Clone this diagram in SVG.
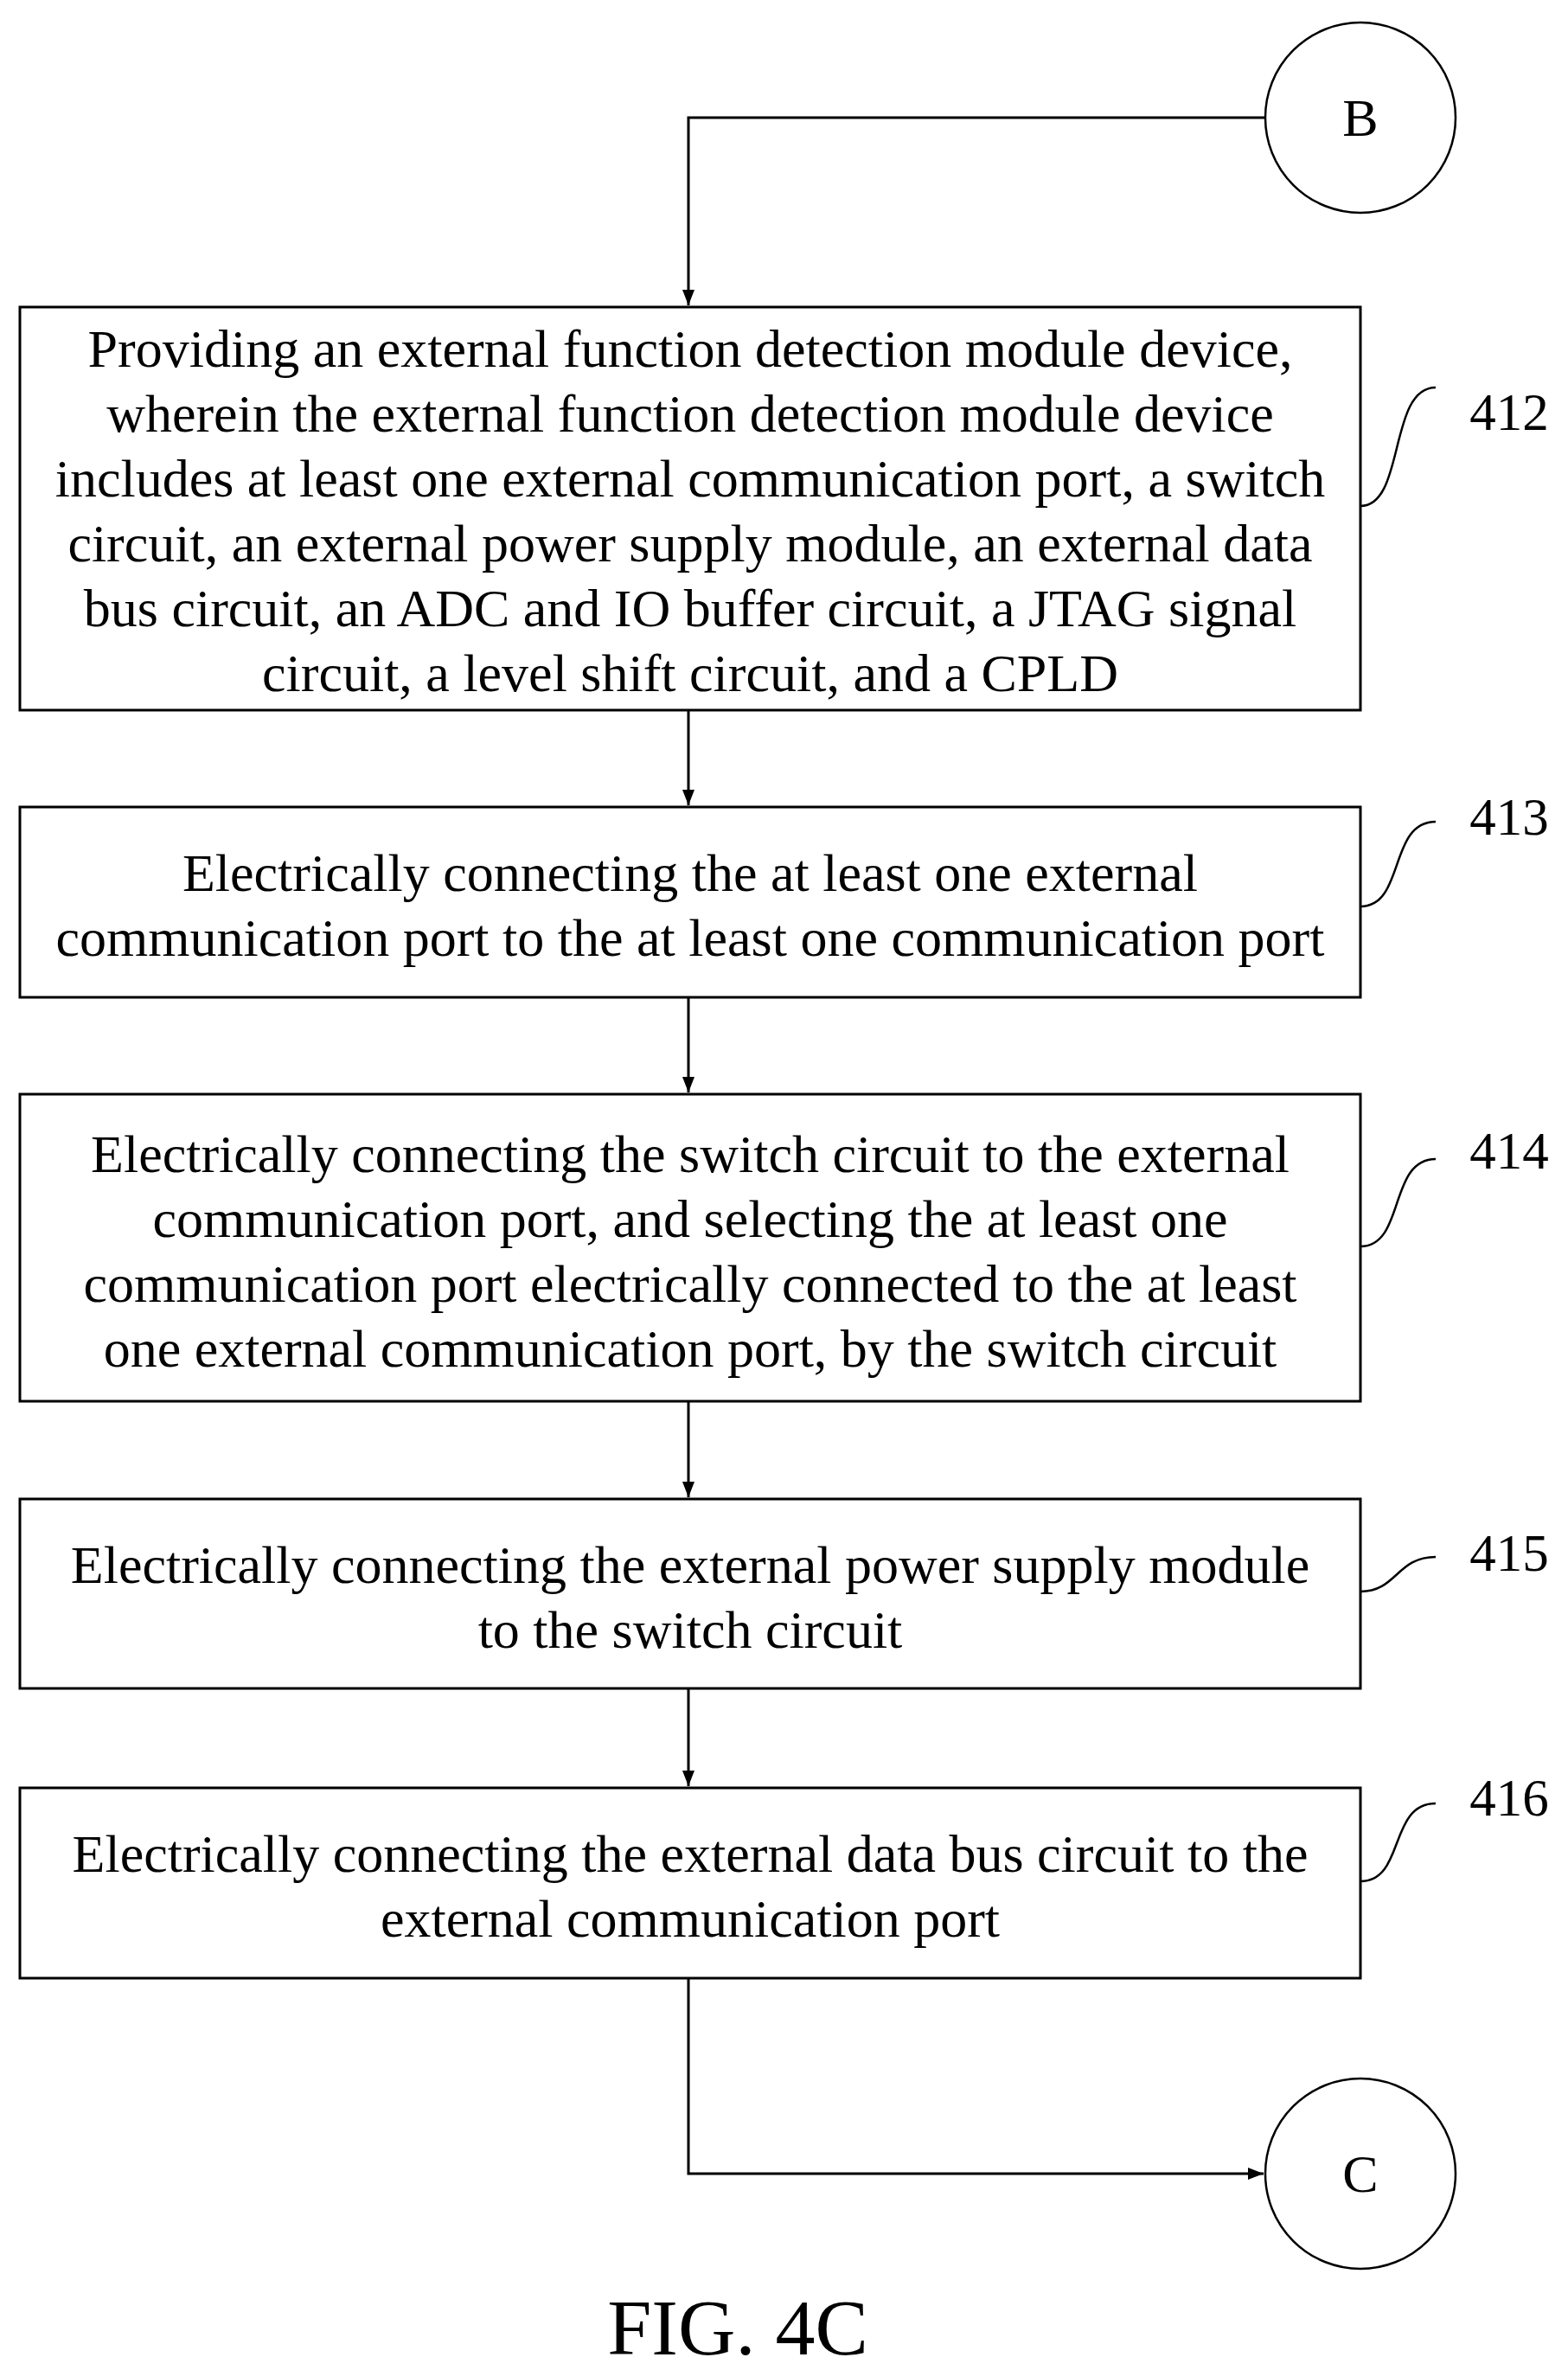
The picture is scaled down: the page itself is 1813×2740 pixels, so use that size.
<svg xmlns="http://www.w3.org/2000/svg" width="1813" height="2740" viewBox="0 0 1813 2740">
<defs>
<style>
.b{fill:none;stroke:#000;stroke-width:3}
.t{font-family:"Liberation Serif",serif;font-size:62px;text-anchor:middle;fill:#000}
.l{font-family:"Liberation Serif",serif;font-size:61px;text-anchor:middle;fill:#000}
.c{fill:none;stroke:#000;stroke-width:2.5}
</style>
<marker id="ar" viewBox="0 0 18 14" refX="18" refY="7" markerWidth="18" markerHeight="14" orient="auto" markerUnits="userSpaceOnUse"><path d="M0,0 L18,7 L0,14 Z" fill="#000"/></marker>
</defs>
<rect width="1813" height="2740" fill="#fff"/>
<g id="connectors">
<path class="b" d="M1463,136 H796 V353" marker-end="url(#ar)"/>
<path class="b" d="M796,821 V931" marker-end="url(#ar)"/>
<path class="b" d="M796,1153 V1263" marker-end="url(#ar)"/>
<path class="b" d="M796,1620 V1731" marker-end="url(#ar)"/>
<path class="b" d="M796,1952 V2065" marker-end="url(#ar)"/>
<path class="b" d="M796,2287 V2513 H1461" marker-end="url(#ar)"/>
<path class="c" d="M1573,585 C1625,585 1605,448 1660,448"/>
<path class="c" d="M1573,1048 C1625,1048 1605,950 1660,950"/>
<path class="c" d="M1573,1441 C1625,1441 1605,1340 1660,1340"/>
<path class="c" d="M1573,1840 C1615,1840 1615,1800 1660,1800"/>
<path class="c" d="M1573,2175 C1625,2175 1605,2085 1660,2085"/>
</g>
<g id="B"><ellipse class="c" cx="1573" cy="136" rx="110" ry="110"/><text class="t" x="1573" y="157">B</text></g>
<g id="n412"><rect class="b" x="23" y="355" width="1550" height="466"/>
<text class="t" x="798" y="424">Providing an external function detection module device,</text>
<text class="t" x="798" y="499">wherein the external function detection module device</text>
<text class="t" x="798" y="574">includes at least one external communication port, a switch</text>
<text class="t" x="798" y="649">circuit, an external power supply module, an external data</text>
<text class="t" x="798" y="724">bus circuit, an ADC and IO buffer circuit, a JTAG signal</text>
<text class="t" x="798" y="799">circuit, a level shift circuit, and a CPLD</text>
<text class="l" x="1745" y="497">412</text></g>
<g id="n413"><rect class="b" x="23" y="933" width="1550" height="220"/>
<text class="t" x="798" y="1030">Electrically connecting the at least one external</text>
<text class="t" x="798" y="1105">communication port to the at least one communication port</text>
<text class="l" x="1745" y="965">413</text></g>
<g id="n414"><rect class="b" x="23" y="1265" width="1550" height="355"/>
<text class="t" x="798" y="1355">Electrically connecting the switch circuit to the external</text>
<text class="t" x="798" y="1430">communication port, and selecting the at least one</text>
<text class="t" x="798" y="1505">communication port electrically connected to the at least</text>
<text class="t" x="798" y="1580">one external communication port, by the switch circuit</text>
<text class="l" x="1745" y="1351">414</text></g>
<g id="n415"><rect class="b" x="23" y="1733" width="1550" height="219"/>
<text class="t" x="798" y="1830">Electrically connecting the external power supply module</text>
<text class="t" x="798" y="1905">to the switch circuit</text>
<text class="l" x="1745" y="1816">415</text></g>
<g id="n416"><rect class="b" x="23" y="2067" width="1550" height="220"/>
<text class="t" x="798" y="2164">Electrically connecting the external data bus circuit to the</text>
<text class="t" x="798" y="2239">external communication port</text>
<text class="l" x="1745" y="2099">416</text></g>
<g id="C"><ellipse class="c" cx="1573" cy="2513" rx="110" ry="110"/><text class="t" x="1573" y="2534">C</text></g>
<text x="853" y="2722" style="font-family:'Liberation Serif',serif;font-size:92px;text-anchor:middle">FIG. 4C</text>
</svg>
